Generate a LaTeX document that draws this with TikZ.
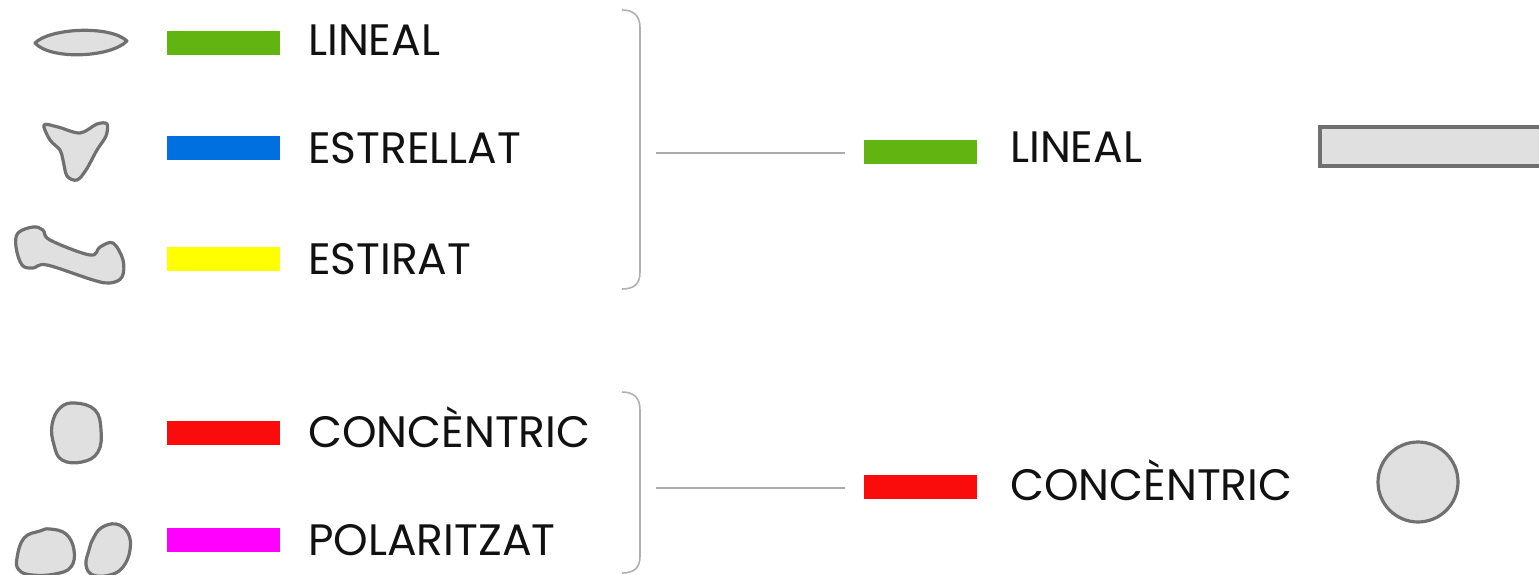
\documentclass[tikz,border=0pt]{standalone}
\usepackage{fontspec}
\setmainfont{Poppins}
\begin{document}
\begin{tikzpicture}[x=1pt,y=-1pt,
  blob/.style={draw=shapegray,fill=shapefill,line width=3.2pt,line join=round},
  bar/.style={draw=none,minimum width=113pt,minimum height=24pt,inner sep=0pt,anchor=west},
  lbl/.style={anchor=base west,inner sep=0pt,font=\fontsize{44}{50}\selectfont,text=txt},
  brace/.style={draw=bracegray,line width=1.6pt},
  conn/.style={draw=linegray,line width=1.3pt}]
\definecolor{shapegray}{RGB}{112,112,112}
\definecolor{shapefill}{RGB}{224,224,224}
\definecolor{bracegray}{RGB}{176,176,176}
\definecolor{linegray}{RGB}{170,170,170}
\definecolor{txt}{RGB}{17,17,17}
\definecolor{cgreen}{RGB}{98,180,16}
\definecolor{cblue}{RGB}{0,112,224}
\definecolor{cyellow}{RGB}{255,255,0}
\definecolor{cred}{RGB}{250,12,12}
\definecolor{cmag}{RGB}{255,0,255}
\useasboundingbox (0,0) rectangle (1539,575);
% shapes
\path[blob] (35,43) .. controls (50,28) and (110,25) .. (127,41) .. controls (110,58) and (50,60) .. cycle;
\path[blob] plot[smooth cycle,tension=0.55] coordinates {(44,125) (58,127) (80,133) (97,124) (107,124) (106,136) (97,150) (86,170) (77,180) (67,176) (63,160) (60,150) (50,140)};
\path[blob] plot[smooth cycle,tension=0.6] coordinates {(18,233) (33,227) (43,230) (50,240) (90,255) (100,247) (113,243) (123,260) (122,277) (110,283) (93,280) (47,265) (33,268) (22,265) (16,247)};
\path[blob] plot[smooth cycle,tension=0.7] coordinates {(75,403) (95,410) (101,430) (98,452) (82,462) (62,460) (54,445) (52,425) (60,408)};
\path[blob] plot[smooth cycle,tension=0.7] coordinates {(17,558) (24,538) (40,531) (50,529) (66,534) (74,550) (71,567) (55,574) (32,575) (19,570)};
\path[blob] plot[smooth cycle,tension=0.7] coordinates {(116,524) (128,533) (130,550) (123,567) (110,575) (93,575) (86,565) (89,550) (93,539) (101,528)};
% left bars and labels
\node[bar,fill=cgreen] (g1) at (167,43) {};
\node[bar,fill=cblue] (b1) at (167,148) {};
\node[bar,fill=cyellow] (y1) at (167,259) {};
\node[bar,fill=cred] (r1) at (167,433) {};
\node[bar,fill=cmag] (m1) at (167,540) {};
\node[lbl] (tg1) at (308,56) {LINEAL};
\node[lbl] (tb1) at (308,164) {ESTRELLAT};
\node[lbl] (ty1) at (308,274) {ESTIRAT};
\node[lbl] (tr1) at (308,447) {CONCÈNTRIC};
\node[lbl] (tm1) at (308,555) {POLARITZAT};
% braces
\path[brace] (622,10) .. controls (634,10) and (640,16) .. (640,28) -- (640,272) .. controls (640,284) and (634,289) .. (622,289);
\path[brace] (622,392) .. controls (634,392) and (640,398) .. (640,410) -- (640,556) .. controls (640,568) and (634,573) .. (622,573);
\coordinate (k1) at (656,153);
\coordinate (k2) at (656,488);
% right side
\node[bar,fill=cgreen] (g2) at (864,152) {};
\node[bar,fill=cred] (r2) at (864,487) {};
\coordinate (e1) at (845,153);
\coordinate (e2) at (845,488);
\path[conn] (k1) -- (e1);
\path[conn] (k2) -- (e2);
\node[lbl] (tg2) at (1010,163) {LINEAL};
\node[lbl] (tr2) at (1010,500) {CONCÈNTRIC};
\path[blob,line join=miter] (1545,127) -- (1320,127) -- (1320,166) -- (1545,166);
\node[blob,circle,minimum size=80pt,inner sep=0pt] (c1) at (1418,482) {};
\end{tikzpicture}
\end{document}
